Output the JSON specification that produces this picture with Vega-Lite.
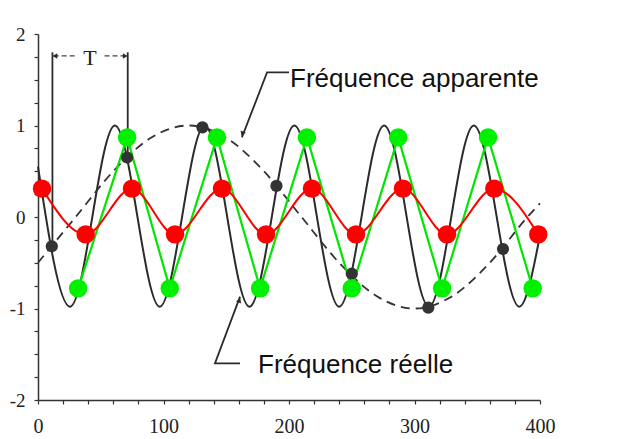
{
  "$schema": "https://vega.github.io/schema/vega-lite/v6.json",
  "width": 502,
  "height": 366,
  "autosize": {"type": "none"},
  "padding": {"left": 38, "top": 34, "right": 81, "bottom": 39},
  "background": "white",
  "config": {"view": {"stroke": null}},
  "datasets": {
    "real": [
      {"x": 0, "y": 0.55}, {"x": 25.5, "y": -0.98}, {"x": 61.3, "y": 1}, {"x": 97, "y": -0.98},
      {"x": 132.8, "y": 1}, {"x": 168.5, "y": -0.98}, {"x": 204.3, "y": 1}, {"x": 240, "y": -0.98},
      {"x": 275.8, "y": 1}, {"x": 311.5, "y": -0.98}, {"x": 347.3, "y": 1}, {"x": 383.5, "y": -0.98},
      {"x": 400, "y": -0.2}
    ],
    "apparent": [
      {"x": 0, "y": -0.5}, {"x": 30, "y": 0}, {"x": 60, "y": 0.5}, {"x": 90, "y": 0.866},
      {"x": 120, "y": 1}, {"x": 150, "y": 0.866}, {"x": 180, "y": 0.5}, {"x": 210, "y": 0},
      {"x": 240, "y": -0.5}, {"x": 270, "y": -0.866}, {"x": 300, "y": -1}, {"x": 330, "y": -0.866},
      {"x": 360, "y": -0.5}, {"x": 390, "y": 0}, {"x": 400, "y": 0.15}
    ],
    "samples": [
      {"x": 11, "y": -0.32}, {"x": 71, "y": 0.65}, {"x": 131, "y": 0.98}, {"x": 190, "y": 0.34},
      {"x": 250, "y": -0.62}, {"x": 311, "y": -0.99}, {"x": 370.5, "y": -0.35}
    ],
    "green": [
      {"x": 32, "y": -0.78}, {"x": 71, "y": 0.87}, {"x": 105, "y": -0.78}, {"x": 142.6, "y": 0.87},
      {"x": 177, "y": -0.78}, {"x": 214.3, "y": 0.87}, {"x": 250, "y": -0.78}, {"x": 287, "y": 0.87},
      {"x": 322, "y": -0.78}, {"x": 358.6, "y": 0.87}, {"x": 394.2, "y": -0.78}
    ],
    "red": [
      {"x": 3.2, "y": 0.31}, {"x": 38, "y": -0.19}, {"x": 74.9, "y": 0.31}, {"x": 109.2, "y": -0.19},
      {"x": 146.6, "y": 0.31}, {"x": 181.7, "y": -0.19}, {"x": 218.3, "y": 0.31}, {"x": 253.4, "y": -0.19},
      {"x": 290.8, "y": 0.31}, {"x": 325.9, "y": -0.19}, {"x": 363.6, "y": 0.31}, {"x": 398.6, "y": -0.19}
    ],
    "guides": [
      {"g": "T1", "o": 1, "x": 11.5, "y": 1.8}, {"g": "T1", "o": 2, "x": 11.5, "y": -0.32},
      {"g": "T2", "o": 1, "x": 71.5, "y": 1.8}, {"g": "T2", "o": 2, "x": 71.5, "y": 0.65},
      {"g": "La", "o": 1, "x": 200, "y": 1.58}, {"g": "La", "o": 2, "x": 182.5, "y": 1.58}, {"g": "La", "o": 3, "x": 162.5, "y": 0.87},
      {"g": "Lr", "o": 1, "x": 161, "y": -1.6}, {"g": "Lr", "o": 2, "x": 141, "y": -1.6}, {"g": "Lr", "o": 3, "x": 161, "y": -0.87}
    ],
    "tarrow": [
      {"g": "a", "o": 1, "x": 12.5, "y": 1.76}, {"g": "a", "o": 2, "x": 30, "y": 1.76},
      {"g": "b", "o": 1, "x": 53, "y": 1.76}, {"g": "b", "o": 2, "x": 70.5, "y": 1.76}
    ],
    "heads": [
      {"x": 13.5, "y": 1.76, "a": 270}, {"x": 69.5, "y": 1.76, "a": 90},
      {"x": 162.8, "y": 0.91, "a": 201}, {"x": 160.5, "y": -0.91, "a": 21}
    ],
    "labels": [
      {"x": 200.8, "y": 1.42, "t": "Fréquence apparente"},
      {"x": 175.3, "y": -1.705, "t": "Fréquence réelle"}
    ],
    "tlabel": [{"x": 41.4, "y": 1.66, "t": "T"}]
  },
  "encoding": {
    "x": {
      "field": "x", "type": "quantitative",
      "scale": {"domain": [0, 400], "nice": false, "zero": false},
      "axis": {
        "title": null, "grid": false,
        "values": [0, 20, 40, 60, 80, 100, 120, 140, 160, 180, 200, 220, 240, 260, 280, 300, 320, 340, 360, 380, 400],
        "labelExpr": "datum.value % 100 == 0 ? format(datum.value, 'd') : ''",
        "labelFlush": false, "labelOverlap": false,
        "labelFont": "Liberation Serif", "labelFontSize": 20, "labelColor": "#222",
        "tickSize": 4, "labelPadding": 12, "tickColor": "#333", "tickWidth": 1.2,
        "domainColor": "#333", "domainWidth": 1.5
      }
    },
    "y": {
      "field": "y", "type": "quantitative",
      "scale": {"domain": [-2, 2], "nice": false, "zero": false},
      "axis": {
        "title": null, "grid": false,
        "values": [-2, -1.75, -1.5, -1.25, -1, -0.75, -0.5, -0.25, 0, 0.25, 0.5, 0.75, 1, 1.25, 1.5, 1.75, 2],
        "labelExpr": "datum.value % 1 == 0 ? (datum.value < 0 ? '-' + format(-datum.value, 'd') : format(datum.value, 'd')) : ''",
        "labelOverlap": false, "labelFlush": false,
        "labelFont": "Liberation Serif", "labelFontSize": 19, "labelColor": "#222",
        "tickSize": 4, "labelPadding": 9, "tickColor": "#333", "tickWidth": 1.2,
        "domainColor": "#333", "domainWidth": 1.5
      }
    }
  },
  "layer": [
    {
      "data": {"name": "real"},
      "mark": {"type": "line", "interpolate": "monotone", "color": "#2b2b2b", "strokeWidth": 2}
    },
    {
      "data": {"name": "apparent"},
      "mark": {"type": "line", "interpolate": "monotone", "color": "#333", "strokeWidth": 1.8, "strokeDash": [9, 6]}
    },
    {
      "data": {"name": "guides"},
      "mark": {"type": "line", "color": "#2b2b2b", "strokeWidth": 1.8},
      "encoding": {"detail": {"field": "g"}, "order": {"field": "o"}}
    },
    {
      "data": {"name": "tarrow"},
      "mark": {"type": "line", "color": "#444", "strokeWidth": 1.2, "strokeDash": [5, 3]},
      "encoding": {"detail": {"field": "g"}, "order": {"field": "o"}}
    },
    {
      "data": {"name": "heads"},
      "mark": {"type": "point", "shape": "triangle-up", "filled": true, "color": "#2b2b2b", "size": 30, "opacity": 1},
      "encoding": {"angle": {"field": "a", "type": "quantitative", "scale": null}}
    },
    {
      "data": {"name": "green"},
      "mark": {"type": "line", "color": "#00e600", "strokeWidth": 2.2}
    },
    {
      "data": {"name": "red"},
      "mark": {"type": "line", "interpolate": "monotone", "color": "#ff0000", "strokeWidth": 2}
    },
    {
      "data": {"name": "samples"},
      "mark": {"type": "circle", "color": "#333", "size": 150, "opacity": 1}
    },
    {
      "data": {"name": "green"},
      "mark": {"type": "circle", "color": "#00f000", "size": 340, "opacity": 1}
    },
    {
      "data": {"name": "red"},
      "mark": {"type": "circle", "color": "#ff0000", "size": 340, "opacity": 1}
    },
    {
      "data": {"name": "labels"},
      "mark": {"type": "text", "align": "left", "baseline": "alphabetic", "font": "Liberation Sans", "fontSize": 26, "color": "#111"},
      "encoding": {"text": {"field": "t"}}
    },
    {
      "data": {"name": "tlabel"},
      "mark": {"type": "text", "align": "center", "baseline": "alphabetic", "font": "Liberation Serif", "fontSize": 22, "color": "#222"},
      "encoding": {"text": {"field": "t"}}
    }
  ]
}
